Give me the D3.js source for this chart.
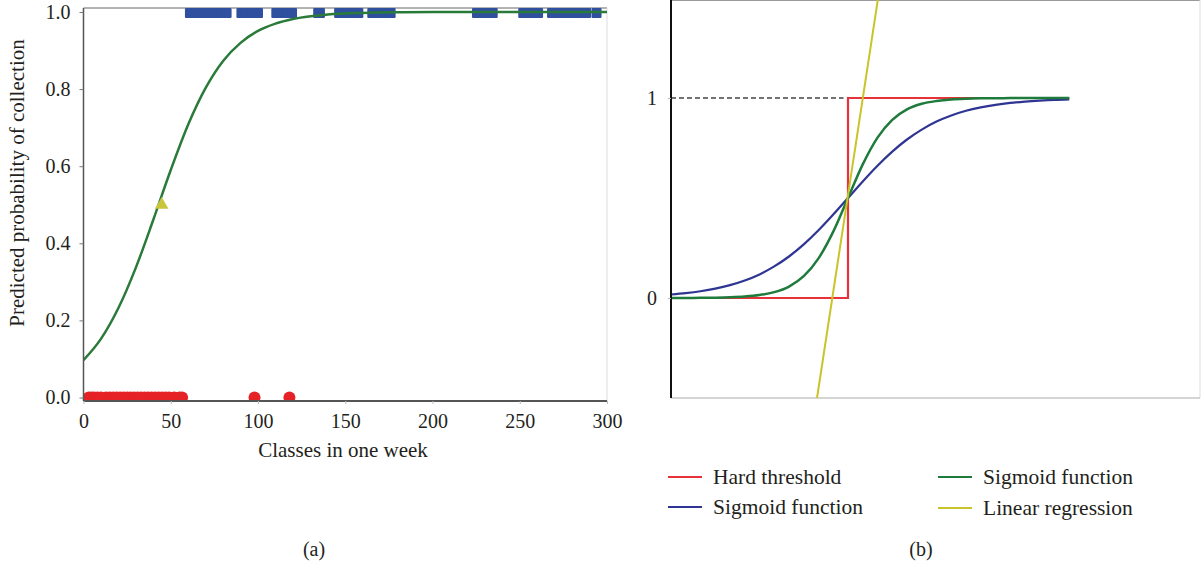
<!DOCTYPE html>
<html><head><meta charset="utf-8">
<script src="https://cdn.jsdelivr.net/npm/d3@7/dist/d3.min.js"></script>
<style>
body{margin:0;background:#fff;}
svg text{font-family:"Liberation Serif","DejaVu Serif",serif;fill:#231f20;}
</style></head>
<body><svg id="c" width="1204" height="565"></svg>
<script>
// ---------- Panel (a) data ----------
const aXTicks = [0, 50, 100, 150, 200, 250, 300];
const aYTicks = [0.0, 0.2, 0.4, 0.6, 0.8, 1.0];
const redX = [3, 4.5, 6, 8, 10, 13, 15, 17, 19, 21, 23, 25, 27, 29, 31, 33, 35, 37, 39, 41, 43, 45, 47, 49, 52, 55, 56.5, 98, 118];
const blueX = [61, 64, 67, 70, 73, 76, 79, 82, 90.5, 93, 96, 100, 110.5, 114, 117, 119.5, 134.5, 135.5, 146.5, 150, 154, 157.5, 165.5, 169, 173, 176, 225.5, 230, 234.5, 252, 256, 260.5, 268.5, 273, 278, 283, 288, 294];
const curveX = [0, 10, 20, 30, 40, 50, 60, 70, 80, 90, 100, 110, 120, 140, 160, 180, 200, 250, 300];
const curveP = [0.097, 0.152, 0.232, 0.337, 0.461, 0.590, 0.708, 0.803, 0.873, 0.920, 0.951, 0.970, 0.982, 0.9936, 0.9977, 0.9992, 0.9997, 1.0, 1.0];
const triX = [44.8];
const triP = [0.5];

// ---------- Panel (b) data ----------
const bTicks = [0, 1];
const bX = [-6, -5.5, -5, -4.5, -4, -3.5, -3, -2.5, -2, -1.5, -1, -0.5, 0, 0.5, 1, 1.5, 2, 2.5, 3, 3.5, 4, 4.5, 5, 5.5, 6, 6.5, 7, 7.5];
const sigBlue = [0.0176, 0.0245, 0.0339, 0.0467, 0.0642, 0.0875, 0.118, 0.158, 0.2075, 0.268, 0.3385, 0.417, 0.5, 0.583, 0.6615, 0.732, 0.7925, 0.842, 0.882, 0.9125, 0.936, 0.953, 0.966, 0.9755, 0.982, 0.987, 0.991, 0.9935];
const sigGreen = [0.0002, 0.00045, 0.0009, 0.0018, 0.0037, 0.0074, 0.0148, 0.0293, 0.0573, 0.109, 0.198, 0.332, 0.5, 0.668, 0.802, 0.891, 0.943, 0.971, 0.985, 0.9926, 0.9963, 0.9982, 0.9991, 0.9995, 0.9998, 0.9999, 1.0, 1.0];
const hardX = [-6, 0, 0, 7.5];
const hardY = [0, 0, 1, 1];
const linX = [-1.05, 1.02];
const linY = [-0.5, 1.5];
const dashX = [-6, -0.15];
const dashY = [1, 1];
const legendItems = ["Hard threshold", "Sigmoid function", "Sigmoid function", "Linear regression"];
const legendColors = ["#e8323a", "#2e3592", "#1e7b3c", "#c8c42a"];

const FONT = '"Liberation Serif","DejaVu Serif",serif';
const svg = d3.select("#c");

function styleAxisText(g, size) {
  g.attr("font-family", FONT).attr("font-size", size);
  g.selectAll("text").attr("font-family", FONT).attr("font-size", size)
    .style("font-family", FONT).style("font-size", size + "px").attr("fill", "#231f20");
}

// ================= Panel (a) =================
const xA = d3.scaleLinear().domain([0, 300]).range([83.5, 607]);
const yA = d3.scaleLinear().domain([0, 1]).range([397.5, 12]);
const gA = svg.append("g");

svg.append("defs").append("clipPath").attr("id", "clipA").append("rect")
  .attr("x", 83.5).attr("y", 8).attr("width", 524).attr("height", 393);

gA.append("line").attr("x1", 83.5).attr("x2", 607).attr("y1", 8).attr("y2", 8).attr("stroke", "#666").attr("stroke-width", 1);
gA.append("line").attr("x1", 607).attr("x2", 607).attr("y1", 8).attr("y2", 401).attr("stroke", "#ddd").attr("stroke-width", 1);

const plotA = gA.append("g").attr("clip-path", "url(#clipA)");

plotA.append("g").selectAll("circle").data(redX).join("circle")
  .attr("cx", d => xA(d)).attr("cy", yA(0)).attr("r", 6).attr("fill", "#e52226");

plotA.append("g").selectAll("rect").data(blueX).join("rect")
  .attr("x", d => xA(d) - 5).attr("y", yA(1) - 4).attr("width", 10).attr("height", 10)
  .attr("rx", 1).attr("fill", "#2f4f9f");

const lineA = d3.line().x((d, i) => xA(curveX[i])).y(d => yA(d)).curve(d3.curveMonotoneX);
plotA.append("path").attr("d", lineA(curveP)).attr("fill", "none").attr("stroke", "#2a7a3a").attr("stroke-width", 2.5);

plotA.append("g").selectAll("path").data(triX).join("path")
  .attr("d", d3.symbol().type(d3.symbolTriangle).size(80))
  .attr("transform", (d, i) => `translate(${xA(d)},${yA(triP[i])})`)
  .attr("fill", "#c9c63c");

const axL = gA.append("g").attr("transform", "translate(83.5,0)")
  .call(d3.axisLeft(yA).tickValues(aYTicks).tickFormat(d3.format(".1f")).tickSize(4).tickPadding(9));
axL.select(".domain").attr("d", "M0,8V401").attr("stroke", "#555").attr("stroke-width", 1.5);
axL.selectAll(".tick line").attr("stroke", "#777");
styleAxisText(axL, 20);

const axB = gA.append("g").attr("transform", "translate(0,401)")
  .call(d3.axisBottom(xA).tickValues(aXTicks).tickSize(3).tickPadding(10));
axB.select(".domain").attr("d", "M83.5,0H607").attr("stroke", "#555").attr("stroke-width", 2);
axB.selectAll(".tick line").attr("stroke", "#bbb");
styleAxisText(axB, 20);

gA.append("text").attr("x", 343).attr("y", 457).attr("text-anchor", "middle").attr("font-size", 21).text("Classes in one week");
gA.append("text").attr("transform", "translate(24,183) rotate(-90)").attr("text-anchor", "middle").attr("font-size", 21).text("Predicted probability of collection");
gA.append("text").attr("x", 314).attr("y", 556).attr("text-anchor", "middle").attr("font-size", 20).text("(a)");

// ================= Panel (b) =================
const xB = d3.scaleLinear().domain([-6, 12]).range([671, 1202]);
const yB = d3.scaleLinear().domain([-0.5, 1.5]).range([398, -2]);
const gB = svg.append("g");

svg.select("defs").append("clipPath").attr("id", "clipB").append("rect")
  .attr("x", 671).attr("y", 0).attr("width", 529).attr("height", 398);

gB.append("line").attr("x1", 671).attr("x2", 1200).attr("y1", 0.5).attr("y2", 0.5).attr("stroke", "#999").attr("stroke-width", 1);
gB.append("line").attr("x1", 1200).attr("x2", 1200).attr("y1", 0).attr("y2", 398).attr("stroke", "#ddd").attr("stroke-width", 1);
gB.append("line").attr("x1", 671).attr("x2", 1200).attr("y1", 398).attr("y2", 398).attr("stroke", "#aaa").attr("stroke-width", 1);

const plot = gB.append("g").attr("clip-path", "url(#clipB)");

const lineXY = d3.line().x(d => xB(d[0])).y(d => yB(d[1]));
plot.append("path").attr("d", lineXY(dashX.map((x, i) => [x, dashY[i]])))
  .attr("fill", "none").attr("stroke", "#444").attr("stroke-width", 1.5).attr("stroke-dasharray", "5,3");

plot.append("path").attr("d", lineXY(hardX.map((x, i) => [x, hardY[i]])))
  .attr("fill", "none").attr("stroke", legendColors[0]).attr("stroke-width", 2.2);

const sigLine = d3.line().x((d, i) => xB(bX[i])).y(d => yB(d)).curve(d3.curveMonotoneX);
plot.append("path").attr("d", sigLine(sigBlue)).attr("fill", "none").attr("stroke", legendColors[1]).attr("stroke-width", 2.2);
plot.append("path").attr("d", sigLine(sigGreen)).attr("fill", "none").attr("stroke", legendColors[2]).attr("stroke-width", 2.5);

plot.append("path").attr("d", lineXY(linX.map((x, i) => [x, linY[i]])))
  .attr("fill", "none").attr("stroke", legendColors[3]).attr("stroke-width", 2);

const axBL = gB.append("g").attr("transform", "translate(671,0)")
  .call(d3.axisLeft(yB).tickValues(bTicks).tickFormat(d3.format("d")).tickSize(3).tickPadding(11));
axBL.select(".domain").attr("d", "M0,0V398").attr("stroke", "#111").attr("stroke-width", 2);
axBL.selectAll(".tick line").attr("stroke", "#bbb");
styleAxisText(axBL, 20);

const legPos = [[668, 477], [668, 507], [938, 477], [938, 508]];
const leg = gB.append("g").selectAll("g").data(legendItems).join("g")
  .attr("transform", (d, i) => `translate(${legPos[i][0]},${legPos[i][1]})`);
leg.append("line").attr("x1", 0).attr("x2", 34).attr("y1", 0).attr("y2", 0)
  .attr("stroke", (d, i) => legendColors[i]).attr("stroke-width", 2);
leg.append("text").attr("x", 45).attr("y", 7).attr("font-size", 21.5).text(d => d);

gB.append("text").attr("x", 921).attr("y", 556).attr("text-anchor", "middle").attr("font-size", 20).text("(b)");
</script></body></html>
